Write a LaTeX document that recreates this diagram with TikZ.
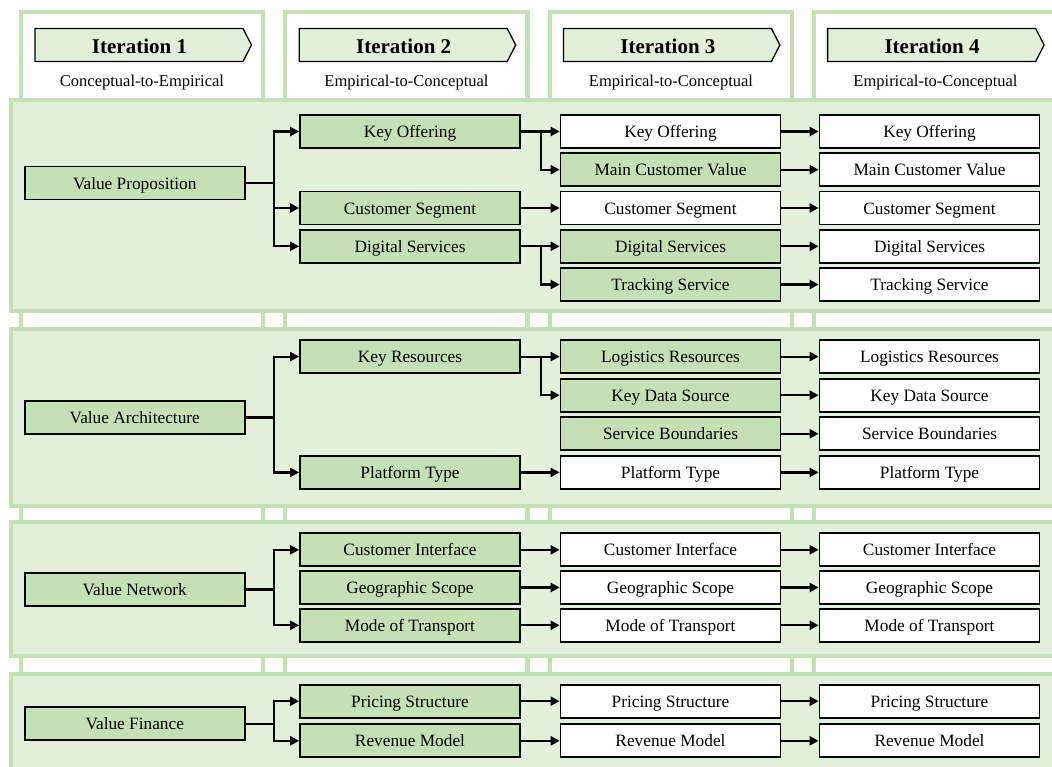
\documentclass[tikz,border=0pt]{standalone}
\usepackage{fontspec}
\setmainfont{Liberation Serif}
\usetikzlibrary{arrows.meta}
\definecolor{bandfill}{HTML}{E2EFDA}
\definecolor{lgreen}{HTML}{C5E0B4}
\begin{document}
\begin{tikzpicture}[x=1pt,y=-1pt,
  box/.style={draw=black, line width=1.7pt, minimum width=220pt, minimum height=33pt, inner sep=0pt, text height=12pt, text depth=0pt, font=\fontsize{17.3}{20}\selectfont},
  gbox/.style={box, fill=lgreen},
  wbox/.style={box, fill=white},
  conn/.style={line width=2.2pt, -{Triangle[length=9pt,width=9pt]}},
  colframe/.style={draw=lgreen, line width=4.3pt, fill=white},
  band/.style={draw=lgreen, line width=4.2pt, fill=bandfill},
  hdr/.style={draw=black, line width=1.3pt, fill=bandfill},
  hdrtext/.style={font=\fontsize{21}{24}\bfseries\selectfont, inner sep=0pt, text height=16pt, text depth=0pt},
  subtext/.style={font=\fontsize{16.5}{20}\selectfont, inner sep=0pt, text height=11pt, text depth=0pt},
]
\useasboundingbox (0,0) rectangle (1052,766);
\clip (0,0) rectangle (1052,766);
% column frames
\foreach \k in {0,1,2,3}{
  \draw[colframe] ({20.65+264.5*\k},12.2) rectangle ({262.85+264.5*\k},800);
}
% bands
\draw[band] (11.1,99.6) rectangle (1070,311.2);
\draw[band] (11.1,329.1) rectangle (1070,506.2);
\draw[band] (11.1,522.1) rectangle (1070,656.2);
\draw[band] (11.1,673.8) rectangle (1070,800);
% header arrows
\foreach \k in {0,1,2,3}{
  \draw[hdr] ({35+264.2*\k},28.5) -- ({243+264.2*\k},28.5) -- ({251.5+264.2*\k},45) -- ({243+264.2*\k},61.5) -- ({35+264.2*\k},61.5) -- cycle;
}
\node[hdrtext] (h1) at (139.5,45) {Iteration 1};
\node[hdrtext] (h2) at (403.7,45) {Iteration 2};
\node[hdrtext] (h3) at (667.9,45) {Iteration 3};
\node[hdrtext] (h4) at (932.1,45) {Iteration 4};
\node[subtext] (s1) at (142,80.5) {Conceptual-to-Empirical};
\node[subtext] (s2) at (406.5,80.5) {Empirical-to-Conceptual};
\node[subtext] (s3) at (671,80.5) {Empirical-to-Conceptual};
\node[subtext] (s4) at (935.5,80.5) {Empirical-to-Conceptual};

% ---------- Band 1: Value Proposition
\node[gbox] (vp) at (134.75,183) {Value Proposition};
\node[gbox] (ko2) at (410,131.5) {Key Offering};
\node[gbox] (cs2) at (410,208) {Customer Segment};
\node[gbox] (ds2) at (410,246.3) {Digital Services};
\node[wbox] (ko3) at (670.5,131.5) {Key Offering};
\node[gbox] (mcv3) at (670.5,169.7) {Main Customer Value};
\node[wbox] (cs3) at (670.5,208) {Customer Segment};
\node[gbox] (ds3) at (670.5,246.3) {Digital Services};
\node[gbox] (ts3) at (670.5,284.5) {Tracking Service};
\node[wbox] (ko4) at (929.5,131.5) {Key Offering};
\node[wbox] (mcv4) at (929.5,169.7) {Main Customer Value};
\node[wbox] (cs4) at (929.5,208) {Customer Segment};
\node[wbox] (ds4) at (929.5,246.3) {Digital Services};
\node[wbox] (ts4) at (929.5,284.5) {Tracking Service};
\draw[conn] (vp.east) -- ++(28.5,0) |- (ko2.west);
\draw[conn] (vp.east) -- ++(28.5,0) |- (cs2.west);
\draw[conn] (vp.east) -- ++(28.5,0) |- (ds2.west);
\draw[conn] (ko2.east) -- (ko3.west);
\draw[conn] (ko2.east) -- ++(20.5,0) |- (mcv3.west);
\draw[conn] (cs2.east) -- (cs3.west);
\draw[conn] (ds2.east) -- (ds3.west);
\draw[conn] (ds2.east) -- ++(20.5,0) |- (ts3.west);
\foreach \a/\b in {ko3/ko4, mcv3/mcv4, cs3/cs4, ds3/ds4, ts3/ts4}{
  \draw[conn] (\a.east) -- (\b.west);
}

% ---------- Band 2: Value Architecture
\node[gbox] (va) at (134.75,417.5) {Value Architecture};
\node[gbox] (kr2) at (410,356.6) {Key Resources};
\node[gbox] (pt2) at (410,472.4) {Platform Type};
\node[gbox] (lr3) at (670.5,356.6) {Logistics Resources};
\node[gbox] (kds3) at (670.5,395.2) {Key Data Source};
\node[gbox] (sb3) at (670.5,433.8) {Service Boundaries};
\node[wbox] (pt3) at (670.5,472.4) {Platform Type};
\node[wbox] (lr4) at (929.5,356.6) {Logistics Resources};
\node[wbox] (kds4) at (929.5,395.2) {Key Data Source};
\node[wbox] (sb4) at (929.5,433.8) {Service Boundaries};
\node[wbox] (pt4) at (929.5,472.4) {Platform Type};
\draw[conn] (va.east) -- ++(28.5,0) |- (kr2.west);
\draw[conn] (va.east) -- ++(28.5,0) |- (pt2.west);
\draw[conn] (kr2.east) -- (lr3.west);
\draw[conn] (kr2.east) -- ++(20.5,0) |- (kds3.west);
\draw[conn] (pt2.east) -- (pt3.west);
\foreach \a/\b in {lr3/lr4, kds3/kds4, sb3/sb4, pt3/pt4}{
  \draw[conn] (\a.east) -- (\b.west);
}

% ---------- Band 3: Value Network
\node[gbox] (vn) at (134.75,589.5) {Value Network};
\node[gbox] (ci2) at (410,549.8) {Customer Interface};
\node[gbox] (gs2) at (410,587.5) {Geographic Scope};
\node[gbox] (mt2) at (410,625.3) {Mode of Transport};
\node[wbox] (ci3) at (670.5,549.8) {Customer Interface};
\node[wbox] (gs3) at (670.5,587.5) {Geographic Scope};
\node[wbox] (mt3) at (670.5,625.3) {Mode of Transport};
\node[wbox] (ci4) at (929.5,549.8) {Customer Interface};
\node[wbox] (gs4) at (929.5,587.5) {Geographic Scope};
\node[wbox] (mt4) at (929.5,625.3) {Mode of Transport};
\draw[conn] (vn.east) -- ++(28.5,0) |- (ci2.west);
\draw[conn] (vn.east) -- ++(28.5,0) |- (mt2.west);
\foreach \a/\b in {ci2/ci3, gs2/gs3, mt2/mt3, ci3/ci4, gs3/gs4, mt3/mt4}{
  \draw[conn] (\a.east) -- (\b.west);
}

% ---------- Band 4: Value Finance
\node[gbox] (vf) at (134.75,723.7) {Value Finance};
\node[gbox] (ps2) at (410,701.2) {Pricing Structure};
\node[gbox] (rm2) at (410,740.8) {Revenue Model};
\node[wbox] (ps3) at (670.5,701.2) {Pricing Structure};
\node[wbox] (rm3) at (670.5,740.8) {Revenue Model};
\node[wbox] (ps4) at (929.5,701.2) {Pricing Structure};
\node[wbox] (rm4) at (929.5,740.8) {Revenue Model};
\draw[conn] (vf.east) -- ++(28.5,0) |- (ps2.west);
\draw[conn] (vf.east) -- ++(28.5,0) |- (rm2.west);
\foreach \a/\b in {ps2/ps3, rm2/rm3, ps3/ps4, rm3/rm4}{
  \draw[conn] (\a.east) -- (\b.west);
}
\end{tikzpicture}
\end{document}
